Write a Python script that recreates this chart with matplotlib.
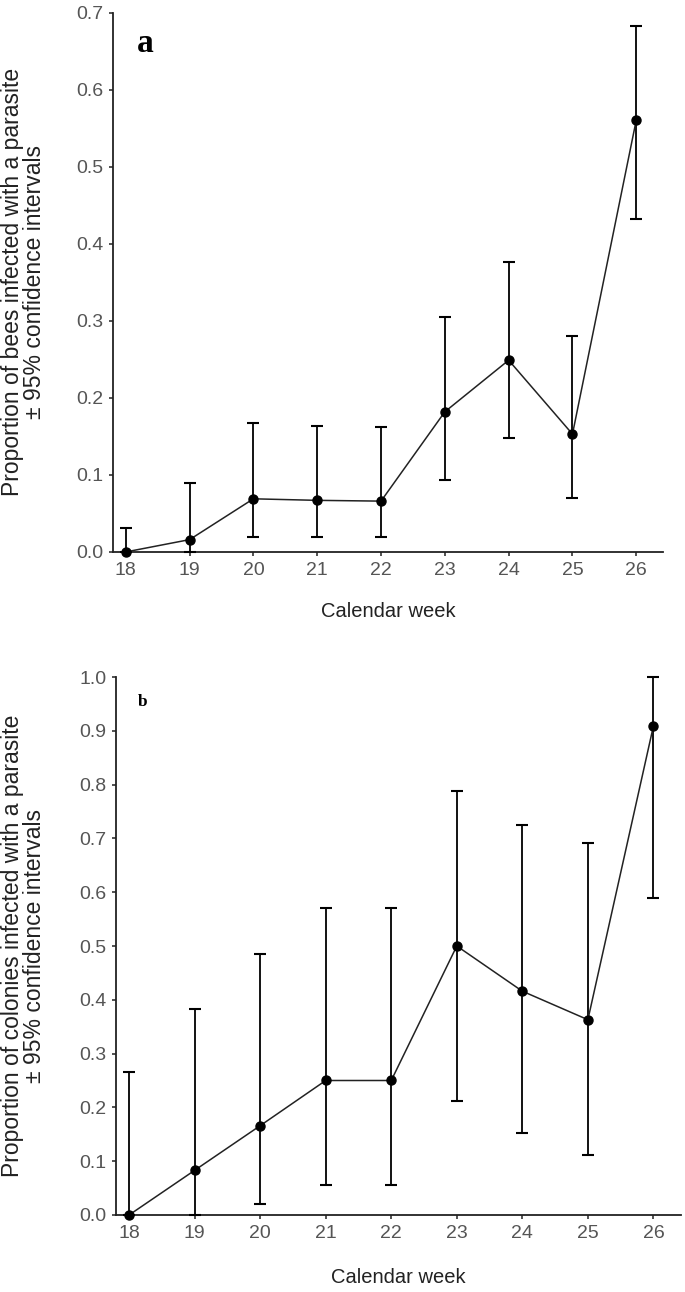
import matplotlib.pyplot as plt

weeks = [18, 19, 20, 21, 22, 23, 24, 25, 26]

# panel a: bees
bees = [0.0, 0.016, 0.069, 0.067, 0.066, 0.182, 0.249, 0.153, 0.561]
bees_lo = [0.0, 0.0, 0.019, 0.019, 0.019, 0.094, 0.148, 0.070, 0.433]
bees_hi = [0.031, 0.089, 0.168, 0.164, 0.162, 0.305, 0.377, 0.281, 0.683]

# panel b: colonies
cols = [0.0, 0.083, 0.166, 0.25, 0.25, 0.5, 0.416, 0.363, 0.909]
cols_lo = [0.0, 0.0, 0.021, 0.055, 0.055, 0.211, 0.152, 0.111, 0.589]
cols_hi = [0.266, 0.383, 0.485, 0.571, 0.571, 0.789, 0.724, 0.692, 1.0]

plt.rcParams['font.family'] = ['Liberation Sans', 'DejaVu Sans']

fig = plt.figure(figsize=(6.85, 12.92), dpi=100)
ax1 = fig.add_axes([0.165, 0.5728, 0.803, 0.4172])
ax2 = fig.add_axes([0.1693, 0.0596, 0.8248, 0.4164])


def panel(ax, y, lo, hi, ymax, yticks, ylab, lpad):
    err = [[v - l for v, l in zip(y, lo)], [h - v for v, h in zip(y, hi)]]
    ax.errorbar(weeks, y, yerr=err, fmt='none', ecolor='black', elinewidth=1.3,
                capsize=4, capthick=1.5, clip_on=False, zorder=3)
    ax.plot(weeks, y, color='#222222', lw=1.1, marker='o', ms=6.5,
            mfc='black', mec='black', clip_on=False, zorder=4)
    ax.set_xlim(17.8, 26.42)
    ax.set_ylim(0, ymax)
    ax.set_xticks(weeks)
    ax.set_yticks(yticks)
    ax.set_yticklabels(['%.1f' % t for t in yticks])
    for s in ['top', 'right']:
        ax.spines[s].set_visible(False)
    for s in ['left', 'bottom']:
        ax.spines[s].set_linewidth(1.3)
        ax.spines[s].set_color('#222222')
    ax.tick_params(length=3, width=1.1, color='#222222', labelcolor='#555555',
                   labelsize=14, pad=4)
    ax.set_xlabel('Calendar week', fontsize=14.5, color='#222222', labelpad=lpad)
    ax.set_ylabel(ylab, fontsize=16.5, color='#222222', linespacing=0.95)


panel(ax1, bees, bees_lo, bees_hi, 0.7, [0.0, 0.1, 0.2, 0.3, 0.4, 0.5, 0.6, 0.7],
      'Proportion of bees infected with a parasite\n\u00b1 95% confidence intervals', 17)
panel(ax2, cols, cols_lo, cols_hi, 1.0, [i / 10 for i in range(11)],
      'Proportion of colonies infected with a parasite\n\u00b1 95% confidence intervals', 19)

ax1.yaxis.set_label_coords(-0.122, 0.5)
ax2.yaxis.set_label_coords(-0.124, 0.5)

fig.text(145 / 685, 1 - 43 / 1292, 'a', fontsize=24, fontweight='bold',
         family=['Liberation Serif', 'DejaVu Serif'], ha='center', va='center')
fig.text(143 / 685, 1 - 702 / 1292, 'b', fontsize=12.5, fontweight='bold',
         family=['Liberation Serif', 'DejaVu Serif'], ha='center', va='center')

fig.savefig('out.png', dpi=100)
